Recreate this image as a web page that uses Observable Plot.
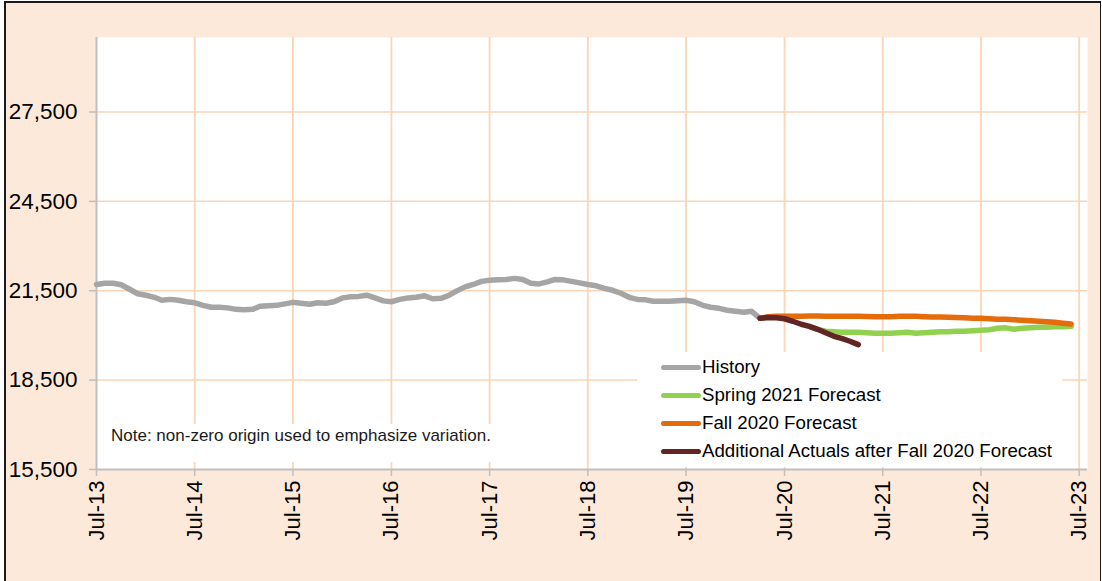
<!DOCTYPE html>
<html>
<head>
<meta charset="utf-8">
<script src="https://cdn.jsdelivr.net/npm/d3@7"></script>
<script src="https://cdn.jsdelivr.net/npm/@observablehq/plot@0.6"></script>
<style>
html, body { margin: 0; padding: 0; background: #ffffff; }
#wrap { position: relative; width: 1102px; height: 581px; overflow: hidden; font-family: "Liberation Sans", Arial, sans-serif; }
#frame { position: absolute; left: 4px; top: 1px; width: 1097px; height: 582px; box-sizing: border-box;
  border-left: 2px solid #1a1a1a; border-top: 2px solid #1a1a1a; border-right: 1px solid #1a1a1a; background: #FDE9D9; }
#chart { position: absolute; left: 0; top: 0; }
#legend { position: absolute; left: 637px; top: 352px; width: 425px; height: 115px; background: #ffffff; }
.row { position: absolute; left: 0; height: 24px; line-height: 24px; width: 425px; }
.sw { position: absolute; left: 24px; top: 9.5px; width: 40px; height: 5px; border-radius: 3px; }
.lbl { position: absolute; left: 65px; top: 0; font-size: 18.7px; color: #000; white-space: nowrap; }
#note { position: absolute; left: 103px; top: 424px; width: 400px; height: 38px; background: #ffffff; }
#note span { position: absolute; left: 8px; top: 0; line-height: 24px; font-size: 17px; color: #1a1a1a; white-space: nowrap; }
</style>
</head>
<body>
<div id="wrap">
  <div id="frame"></div>
  <div id="chart"></div>
  <div id="note"><span>Note: non-zero origin used to emphasize variation.</span></div>
  <div id="legend"></div>
</div>
<script>
// ---- Data (monthly values) ----
const historyStart = [2013, 6];   // Jul-2013
const historyValues = [
  21710, 21750, 21750, 21700, 21550, 21400, 21350, 21280, 21180, 21210, 21180, 21130,
  21095, 21010, 20945, 20945, 20925, 20875, 20860, 20875, 20980, 20995, 21010, 21060,
  21110, 21080, 21045, 21095, 21080, 21130, 21260, 21295, 21310, 21350, 21260, 21160,
  21130, 21210, 21260, 21280, 21330, 21230, 21245, 21350, 21495, 21630, 21710, 21815,
  21850, 21865, 21880, 21915, 21880, 21750, 21730, 21800, 21880, 21865, 21815, 21765,
  21710, 21665, 21580, 21515, 21415, 21280, 21210, 21195, 21145, 21145, 21145, 21160,
  21180, 21130, 21010, 20945, 20910, 20845, 20810, 20775, 20810, 20575
];

const actualsStart = [2020, 3];   // Apr-2020
const actualsValues = [20575, 20600, 20590, 20560, 20475, 20375, 20305, 20205, 20090, 19970, 19890, 19805, 19690];

const fallStart = [2020, 3];      // Apr-2020
const fallValues = [
  20575, 20625, 20640, 20640, 20640, 20645, 20650, 20650, 20645,
  20645, 20640, 20640, 20640, 20635, 20630, 20625, 20630, 20640, 20645, 20640, 20630,
  20620, 20615, 20610, 20600, 20590, 20580, 20575, 20560, 20545, 20540, 20525, 20510,
  20495, 20475, 20460, 20440, 20410, 20385
];

const springStart = [2020, 9];    // Oct-2020
const springValues = [
  20305, 20205, 20140,
  20120, 20105, 20105, 20105, 20090, 20075, 20075, 20075, 20090, 20105, 20075, 20090,
  20105, 20125, 20125, 20140, 20140, 20155, 20175, 20190, 20240, 20255, 20205, 20240,
  20255, 20275, 20275, 20290, 20290, 20305
];

const seriesNames = ["History", "Spring 2021 Forecast", "Fall 2020 Forecast", "Additional Actuals after Fall 2020 Forecast"];
const seriesColors = ["#A5A5A5", "#92D050", "#E46C0A", "#632523"];

const yTicks = [15500, 18500, 21500, 24500, 27500];
const yDomain = [15500, 30000];
const xTickYears = [2013, 2014, 2015, 2016, 2017, 2018, 2019, 2020, 2021, 2022, 2023];
const xDomainEnd = [2023, 7];     // Aug-2023

// ---- Build tables ----
function monthly(start, values) {
  const s = new Date(Date.UTC(start[0], start[1], 1));
  return values.map((v, i) => ({date: d3.utcMonth.offset(s, i), value: v}));
}
const history = monthly(historyStart, historyValues);
const actuals = monthly(actualsStart, actualsValues);
const fall = monthly(fallStart, fallValues);
const spring = monthly(springStart, springValues);

const xTicks = xTickYears.map(y => new Date(Date.UTC(y, 6, 1)));
const x0 = new Date(Date.UTC(historyStart[0], historyStart[1], 1));
const x1 = new Date(Date.UTC(xDomainEnd[0], xDomainEnd[1], 1));

const gridColor = "#FBD5B5";
const axisColor = "#BFBFBF";
const lineOpts = (color) => ({x: "date", y: "value", stroke: color, strokeWidth: 5.5, strokeLinejoin: "round", strokeLinecap: "round"});

const chart = Plot.plot({
  width: 1102,
  height: 581,
  marginLeft: 96,
  marginRight: 15,
  marginTop: 37,
  marginBottom: 112,
  style: {background: "transparent", fontFamily: "'Liberation Sans', Arial, sans-serif", color: "#000", overflow: "visible"},
  x: {type: "utc", domain: [x0, x1]},
  y: {domain: yDomain},
  marks: [
    Plot.frame({fill: "#ffffff", stroke: null}),
    Plot.gridX(xTicks.slice(1), {stroke: gridColor, strokeOpacity: 1, strokeWidth: 1.8}),
    Plot.gridY(yTicks.slice(1), {stroke: gridColor, strokeOpacity: 1, strokeWidth: 1.5}),
    Plot.ruleX([x0], {stroke: axisColor, strokeWidth: 2}),
    Plot.ruleY([yDomain[0]], {stroke: axisColor, strokeWidth: 2}),
    Plot.axisY({ticks: yTicks, tickFormat: d3.format(","), tickSize: 7, tickPadding: 12, fontSize: 22.5,
      stroke: axisColor, strokeWidth: 1.5, fill: "#000", label: null}),
    Plot.axisX({ticks: xTicks, tickFormat: d3.utcFormat("%b-%y"), tickRotate: -90, tickSize: 7, tickPadding: 4,
      fontSize: 22, stroke: axisColor, strokeWidth: 1.5, fill: "#000", label: null}),
    Plot.line(history, lineOpts(seriesColors[0])),
    Plot.line(spring, lineOpts(seriesColors[1])),
    Plot.line(fall, lineOpts(seriesColors[2])),
    Plot.line(actuals, lineOpts(seriesColors[3]))
  ]
});
document.getElementById("chart").appendChild(chart);

// ---- Legend ----
const legend = document.getElementById("legend");
const rowCenters = [15, 43, 71, 99];
seriesNames.forEach((name, i) => {
  const row = document.createElement("div");
  row.className = "row";
  row.style.top = (rowCenters[i] - 12) + "px";
  const sw = document.createElement("div");
  sw.className = "sw";
  sw.style.background = seriesColors[i];
  const lbl = document.createElement("div");
  lbl.className = "lbl";
  lbl.textContent = name;
  row.appendChild(sw);
  row.appendChild(lbl);
  legend.appendChild(row);
});
</script>
</body>
</html>
